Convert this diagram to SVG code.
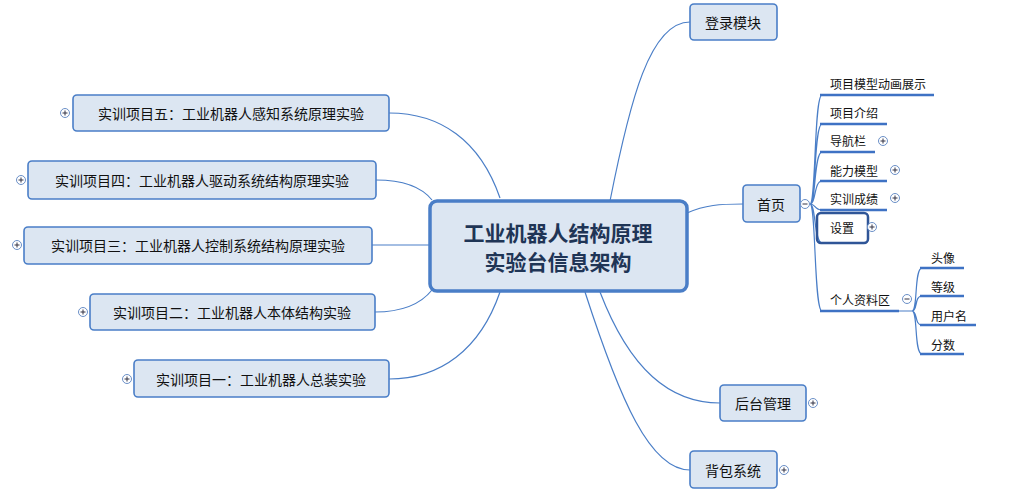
<svg xmlns="http://www.w3.org/2000/svg" width="1025" height="495" viewBox="0 0 1025 495">
<style>
.n{fill:#dce6f2;stroke:#4a7ec7;stroke-width:1.6}
.t{font-family:"Noto Sans CJK SC","Liberation Sans",sans-serif;font-size:14px;fill:#111;text-anchor:middle;dominant-baseline:central}
.s{font-family:"Noto Sans CJK SC","Liberation Sans",sans-serif;font-size:12px;fill:#111;dominant-baseline:central}
.c{fill:none;stroke:#4a7ec7;stroke-width:1.2}
.u{stroke:#3e72c4;stroke-width:2.5}
.p{fill:#fff;stroke:#6a8fc7;stroke-width:1}
.pl{stroke:#334;stroke-width:1}
</style>
<defs>
<g id="plus"><circle r="4.5" class="p"/><path d="M-2.5,0H2.5M0,-2.5V2.5" class="pl"/></g>
<g id="minus"><circle r="4.5" class="p"/><path d="M-2.5,0H2.5" class="pl"/></g>
</defs>
<g id="connectors">
<path class="c" d="M500,198 C480,140 440,113 389,113"/>
<path class="c" d="M432,200 C420,185 400,180 376,180"/>
<path class="c" d="M430,245 H372"/>
<path class="c" d="M432,290 C420,305 400,312 375,312"/>
<path class="c" d="M500,292 C480,350 440,379 389,379"/>
<path class="c" d="M610,201 C630,100 650,22 690,22"/>
<path class="c" d="M687,213 C705,205 720,204 743,204"/>
<path class="c" d="M600,292 C630,370 670,403 720,403"/>
<path class="c" d="M585,292 C620,400 650,470 690,470"/>
<path class="c" d="M810,204 C816,204 814,95 822,95 M810,204 C816,204 814,124 822,124 M810,204 C816,204 814,152 822,152 M810,204 C816,204 814,181 822,181 M810,204 C816,204 814,210 822,210 M810,204 C816,204 814,243 822,243 M810,204 C816,204 814,311 822,311"/>
<path class="c" d="M899,311 H912 M912,311 C918,311 914,268 922,268 M912,311 C918,311 914,296 922,296 M912,311 C918,311 914,325 922,325 M912,311 C918,311 914,354 922,354"/>
</g>
<g id="center"><rect x="430" y="201" width="257" height="90" rx="7" fill="#dce6f2" stroke="#4a7ec7" stroke-width="3.5"/>
<text class="t" x="558" y="232" style="font-size:21px;font-weight:bold;fill:#1f3556">工业机器人结构原理</text>
<text class="t" x="558" y="261" style="font-size:21px;font-weight:bold;fill:#1f3556">实验台信息架构</text></g>
<g id="p5"><rect class="n" x="73" y="95" width="316" height="36" rx="4"/><text class="t" x="231" y="113">实训项目五：工业机器人感知系统原理实验</text><use href="#plus" x="65" y="113"/></g>
<g id="p4"><rect class="n" x="28" y="161" width="348" height="38" rx="4"/><text class="t" x="202" y="180">实训项目四：工业机器人驱动系统结构原理实验</text><use href="#plus" x="21" y="180"/></g>
<g id="p3"><rect class="n" x="24" y="227" width="348" height="37" rx="4"/><text class="t" x="198" y="245">实训项目三：工业机器人控制系统结构原理实验</text><use href="#plus" x="17" y="245"/></g>
<g id="p2"><rect class="n" x="90" y="294" width="285" height="36" rx="4"/><text class="t" x="232" y="312">实训项目二：工业机器人本体结构实验</text><use href="#plus" x="83" y="312"/></g>
<g id="p1"><rect class="n" x="134" y="360" width="255" height="37" rx="4"/><text class="t" x="261" y="379">实训项目一：工业机器人总装实验</text><use href="#plus" x="127" y="379"/></g>
<g id="login"><rect class="n" x="690" y="4" width="87" height="36" rx="4"/><text class="t" x="733" y="22">登录模块</text></g>
<g id="backend"><rect class="n" x="720" y="385" width="86" height="36" rx="4"/><text class="t" x="763" y="403">后台管理</text><use href="#plus" x="813" y="403"/></g>
<g id="bag"><rect class="n" x="690" y="451" width="87" height="37" rx="4"/><text class="t" x="733" y="470">背包系统</text><use href="#plus" x="784" y="470"/></g>
<g id="home"><rect class="n" x="743" y="185" width="57" height="37" rx="4"/><text class="t" x="771" y="204">首页</text><use href="#minus" x="805" y="204"/></g>
<g id="h1"><text class="s" x="830" y="83">项目模型动画展示</text><path class="u" d="M820,95H934"/></g>
<g id="h2"><text class="s" x="830" y="112">项目介绍</text><path class="u" d="M820,124H887"/></g>
<g id="h3"><text class="s" x="830" y="140">导航栏</text><path class="u" d="M820,152H875"/><use href="#plus" x="883" y="141"/></g>
<g id="h4"><text class="s" x="830" y="170">能力模型</text><path class="u" d="M820,181H887"/><use href="#plus" x="895" y="170"/></g>
<g id="h5"><text class="s" x="830" y="198">实训成绩</text><path class="u" d="M820,210H887"/><use href="#plus" x="895" y="198"/></g>
<g id="h6"><rect x="817" y="213" width="51" height="30" rx="4" fill="none" stroke="#2f5597" stroke-width="2.5"/><text class="s" x="830" y="227">设置</text><use href="#plus" x="872" y="227"/></g>
<g id="h7"><text class="s" x="830" y="299">个人资料区</text><path class="u" d="M820,311H899"/><use href="#minus" x="907" y="299"/></g>
<g id="a1"><text class="s" x="931" y="257">头像</text><path class="u" d="M920,268H964"/></g>
<g id="a2"><text class="s" x="931" y="286">等级</text><path class="u" d="M920,296H964"/></g>
<g id="a3"><text class="s" x="931" y="315">用户名</text><path class="u" d="M920,325H976"/></g>
<g id="a4"><text class="s" x="931" y="344">分数</text><path class="u" d="M920,354H964"/></g>
</svg>
